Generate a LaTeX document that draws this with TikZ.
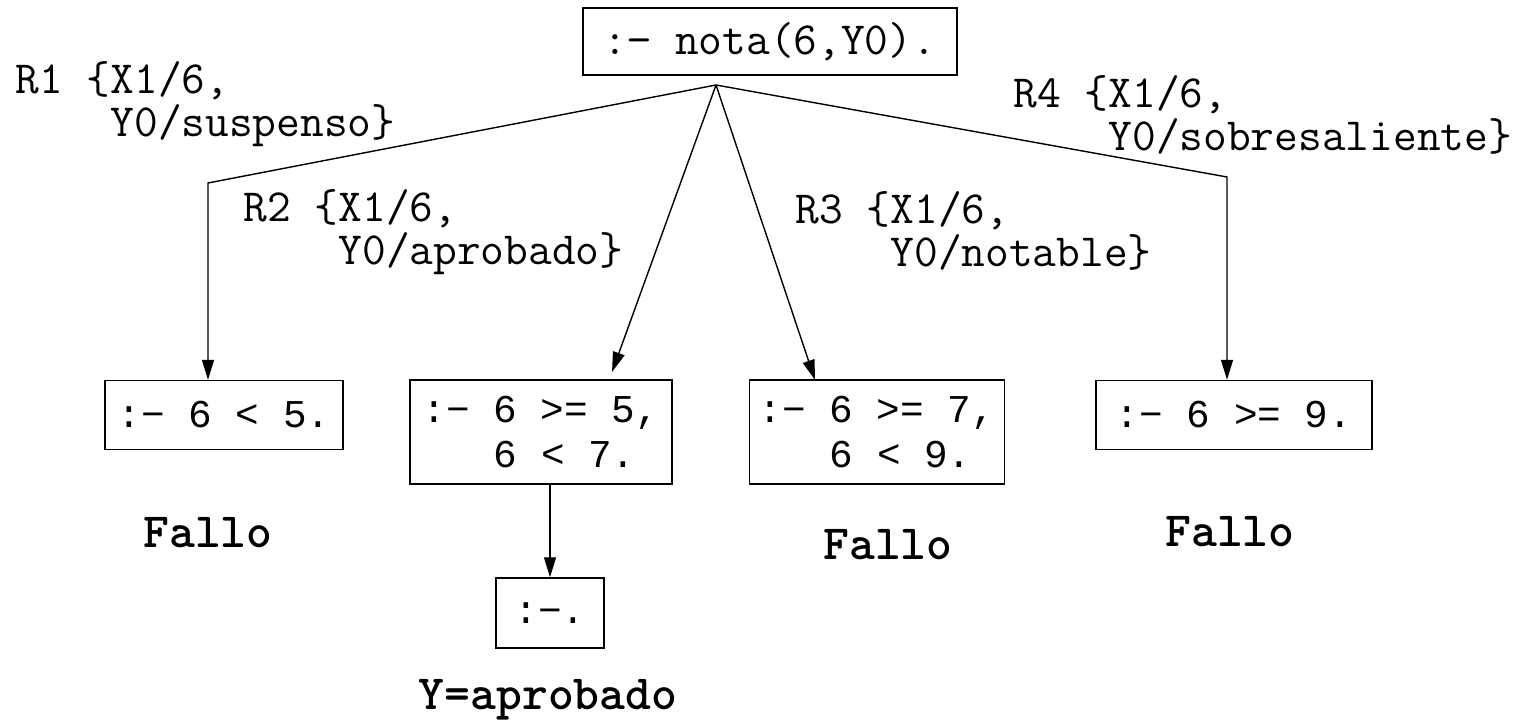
\documentclass[tikz,border=0pt]{standalone}
\usepackage{fontspec}
\newfontfamily\cajafont{Liberation Mono}
\usetikzlibrary{arrows.meta}

\begin{document}
\begin{tikzpicture}[x=0.01cm, y=-0.01cm,
  every node/.style={font=\ttfamily\fontsize{13.1}{12.3}\selectfont},
  caja/.style={draw, inner sep=0pt, align=left, font=\cajafont\fontsize{11.2}{12.6}\selectfont},
  regla/.style={anchor=west, inner sep=0pt, align=left},
  fallo/.style={font=\ttfamily\bfseries\fontsize{14}{16}\selectfont},
  flecha/.style={-{Triangle[length=2mm, width=1.2mm]}}]
\useasboundingbox (0,0) rectangle (1528,725);

% Objetivo inicial
\node[caja, font=\ttfamily\fontsize{13.1}{12.3}\selectfont,
  minimum width=3.74cm, minimum height=0.67cm] (raiz) at (770,41.5) {:− nota(6,Y0).};

% Resolventes
\node[caja, minimum width=2.38cm, minimum height=0.69cm] (c1) at (224,415) {:− 6 < 5.};
\node[caja, minimum width=2.62cm, minimum height=1.04cm] (c2) at (541,432)
  {:− 6 >= 5,\\\phantom{:− }6 < 7.};
\node[caja, minimum width=2.55cm, minimum height=1.04cm] (c3) at (877,432)
  {:− 6 >= 7,\\\phantom{:− }6 < 9.};
\node[caja, minimum width=2.76cm, minimum height=0.69cm] (c4) at (1234,415) {:− 6 >= 9.};
\node[caja, minimum width=1.08cm, minimum height=0.70cm] (c5) at (550,613) {:−.};

% Ramas
\coordinate (abanico) at (716,85);
\coordinate (codo1) at (208,183);
\coordinate (codo4) at (1227,177);
\coordinate (punta2) at (612,372);
\coordinate (punta3) at (815,380);

\draw[flecha] (abanico) -- (codo1) -- (c1.north -| codo1);
\draw[flecha] (abanico) -- (punta2);
\draw[flecha] (abanico) -- (punta3);
\draw[flecha] (abanico) -- (codo4) -- (c4.north -| codo4);
\draw[flecha] (c2.south -| c5.north) -- (c5.north);

% Sustituciones
\node[regla] (r1) at (15,104) {R1 \{X1/6,\\\phantom{R1 \{}Y0/suspenso\}};
\node[regla] (r2) at (243,232) {R2 \{X1/6,\\\phantom{R2 \{}Y0/aprobado\}};
\node[regla] (r3) at (795,231) {R3 \{X1/6,\\\phantom{R3 \{}Y0/notable\}};
\node[regla] (r4) at (1013,115) {R4 \{X1/6,\\\phantom{R4 \{}Y0/sobresaliente\}};

% Resultados
\node[fallo] (f1) at (208,533) {Fallo};
\node[fallo] (f3) at (888,545) {Fallo};
\node[fallo] (f4) at (1230,532) {Fallo};
\node[fallo] (exito) at (548,700) {Y=aprobado};
\end{tikzpicture}
\end{document}
